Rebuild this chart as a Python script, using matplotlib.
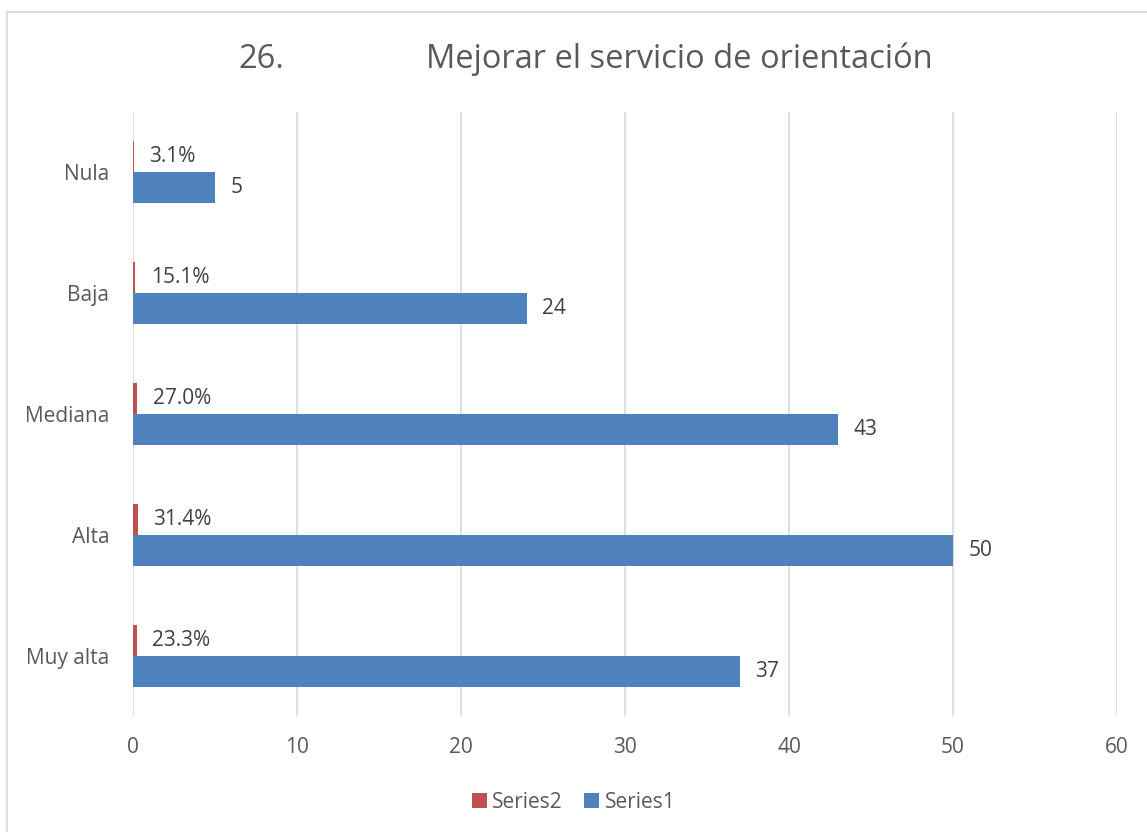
import numpy as np
import matplotlib.pyplot as plt
from matplotlib.patches import Rectangle

# datos
categorias = ['Muy alta', 'Alta', 'Mediana', 'Baja', 'Nula']
series1 = [37, 50, 43, 24, 5]
series2 = [0.233, 0.314, 0.270, 0.151, 0.031]  # proporciones
xticks = [0, 10, 20, 30, 40, 50, 60]

gris = '#595959'
azul = '#4F81BD'
rojo = '#C0504D'
plt.rcParams['font.family'] = ['Open Sans', 'DejaVu Sans']

fig = plt.figure(figsize=(11.47, 8.32), dpi=100)
ax = fig.add_axes([133 / 1147, 1 - 716 / 832, (1117 - 133) / 1147, 604 / 832])

y = np.arange(len(categorias))
h = 0.256
b2 = ax.barh(y + h / 2, series2, height=h, color=rojo, linewidth=0, label='Series2')
b1 = ax.barh(y - h / 2, series1, height=h, color=azul, linewidth=0, label='Series1')

for yi, v in zip(y, series2):
    ax.annotate(f'{v * 100:.1f}%', (v, yi + h / 2), xytext=(11, 0), textcoords='offset points',
                va='center', ha='left', fontsize=15, color='#404040')
for yi, v in zip(y, series1):
    ax.annotate(str(v), (v, yi - h / 2), xytext=(11, 0), textcoords='offset points',
                va='center', ha='left', fontsize=15, color='#404040')

ax.set_xlim(0, 60)
ax.set_ylim(-0.5, 4.5)
ax.set_xticks(xticks)
ax.set_yticks(y)
ax.set_yticklabels(categorias)
ax.tick_params(length=0, labelsize=15, colors=gris)
ax.tick_params(axis='x', pad=15)
ax.tick_params(axis='y', pad=17)
ax.grid(axis='x', color='#D9D9D9', linewidth=1.2)
ax.set_axisbelow(True)
for s in ax.spines.values():
    s.set_visible(False)

fig.text(261 / 1147, 1 - 59 / 832, '26.', ha='center', va='center', fontsize=23.5, color=gris)
fig.text(679 / 1147, 1 - 59 / 832, 'Mejorar el servicio de orientación', ha='center', va='center',
         fontsize=23.5, color=gris)

fig.legend(handles=[b2, b1], loc='center', bbox_to_anchor=(0.5, 1 - 802 / 832), ncol=2,
           frameon=False, fontsize=15, labelcolor=gris, handlelength=0.75, handleheight=0.75,
           handletextpad=0.25, columnspacing=1.0)

fig.patches.append(Rectangle((7 / 1147, -0.05), 1.1, 1 - 12 / 832 + 0.05, transform=fig.transFigure,
                             fill=False, edgecolor='#D9D9D9', linewidth=1.2))

fig.savefig('out.png', dpi=100)
